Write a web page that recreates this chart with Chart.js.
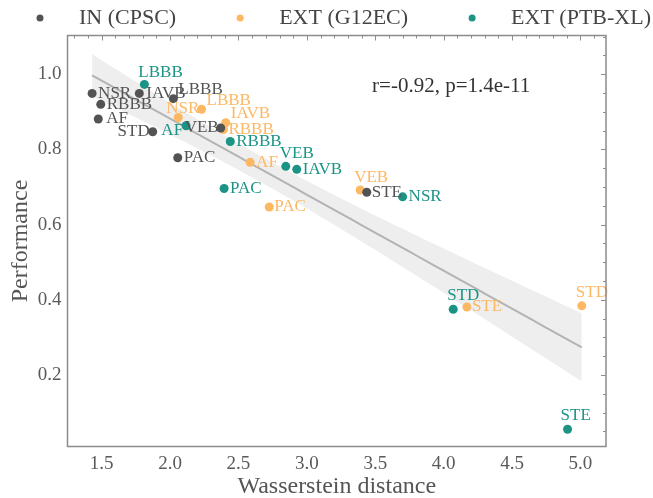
<!DOCTYPE html>
<html>
<head>
<meta charset="utf-8">
<script src="https://cdn.jsdelivr.net/npm/chart.js@4.4.1/dist/chart.umd.min.js"></script>
<style>
  html, body { margin: 0; padding: 0; background: #fff; }
</style>
</head>
<body>
<canvas id="chart" width="653" height="498"></canvas>
<script>
// per-class Wasserstein distance vs. performance, one list per dataset
const cpscClasses = ['NSR', 'IAVB', 'LBBB', 'RBBB', 'AF', 'STD', 'VEB', 'PAC', 'STE']
const cpscDist    = [1.430, 1.775, 2.024, 1.493, 1.475, 1.873, 2.370, 2.056, 3.438]
const cpscPerf    = [0.949, 0.949, 0.935, 0.920, 0.881, 0.847, 0.857, 0.778, 0.686]

const g12Classes = ['NSR', 'LBBB', 'IAVB', 'RBBB', 'AF', 'PAC', 'VEB', 'STE', 'STD']
const g12Dist    = [2.060, 2.230, 2.407, 2.390, 2.585, 2.725, 3.390, 4.170, 5.010]
const g12Perf    = [0.885, 0.907, 0.871, 0.853, 0.766, 0.647, 0.692, 0.381, 0.384]

const ptbClasses = ['LBBB', 'AF', 'RBBB', 'VEB', 'IAVB', 'PAC', 'NSR', 'STD', 'STE']
const ptbDist    = [1.812, 2.117, 2.440, 2.846, 2.926, 2.395, 3.700, 4.070, 4.906]
const ptbPerf    = [0.973, 0.863, 0.821, 0.755, 0.747, 0.696, 0.674, 0.375, 0.056]

const xTickValues = [1.5, 2.0, 2.5, 3.0, 3.5, 4.0, 4.5, 5.0]
const yTickValues = [0.2, 0.4, 0.6, 0.8, 1.0]

const statsText = 'r=-0.92, p=1.4e-11'

const GRAY = '#535353'
const ORANGE = '#fdb863'
const TEAL = '#1b9486'
const SERIF = '"Liberation Serif", "DejaVu Serif", serif'

// label nudges in px: [dx, dy, align]
const labelNudge = {
  cpsc: { NSR: [6, 0, 'left'], IAVB: [7, 0, 'left'], LBBB: [5, -9, 'left'], RBBB: [6, 0, 'left'],
          AF: [8, 0, 'left'], STD: [-3, 0, 'right'], VEB: [-2, 0, 'right'], PAC: [6, 0, 'left'], STE: [5, 0, 'left'] },
  g12:  { NSR: [-12, -9, 'left'], LBBB: [5, -9, 'left'], IAVB: [5, -9, 'left'], RBBB: [5, 0, 'left'],
          AF: [6, 0, 'left'], PAC: [5, 0, 'left'], VEB: [-6, -13, 'left'], STE: [5, 0, 'left'], STD: [-6, -13, 'left'] },
  ptb:  { LBBB: [-6, -12, 'left'], AF: [-3, 5, 'right'], RBBB: [6, 0, 'left'], VEB: [-6, -13, 'left'],
          IAVB: [6, 0, 'left'], PAC: [6, 0, 'left'], NSR: [6, 0, 'left'], STD: [-6, -14, 'left'], STE: [-7, -14, 'left'] }
}

function toPoints(xs, ys) {
  return xs.map((x, i) => ({ x: x, y: ys[i] }))
}

// ordinary least squares over all classes, with a 95% band for the mean
function fitBand(xs, ys, steps) {
  const n = xs.length
  const mx = xs.reduce((a, b) => a + b, 0) / n
  const my = ys.reduce((a, b) => a + b, 0) / n
  let sxx = 0, sxy = 0
  xs.forEach((x, i) => { sxx += (x - mx) ** 2; sxy += (x - mx) * (ys[i] - my) })
  const slope = sxy / sxx
  const icept = my - slope * mx
  let ssr = 0
  xs.forEach((x, i) => { ssr += (ys[i] - (icept + slope * x)) ** 2 })
  const se = Math.sqrt(ssr / (n - 2))
  const t = 2.06 // t(0.975, df=25)
  const lo = Math.min(...xs), hi = Math.max(...xs)
  const line = [], upper = [], lower = []
  for (let k = 0; k <= steps; k++) {
    const x = lo + (hi - lo) * k / steps
    const yh = icept + slope * x
    const h = t * se * Math.sqrt(1 / n + (x - mx) ** 2 / sxx)
    line.push({ x: x, y: yh })
    upper.push({ x: x, y: yh + h })
    lower.push({ x: x, y: yh - h })
  }
  return { line, upper, lower }
}

const fit = fitBand([...cpscDist, ...g12Dist, ...ptbDist], [...cpscPerf, ...g12Perf, ...ptbPerf], 60)

function scatterSet(label, xs, ys, classes, color, key) {
  return {
    type: 'scatter', label: label, data: toPoints(xs, ys), classes: classes, nudge: labelNudge[key],
    backgroundColor: color, borderWidth: 0, pointRadius: 4.5, pointHoverRadius: 4.5, order: 1
  }
}

const pointLabels = {
  id: 'pointLabels',
  afterDatasetsDraw(chart) {
    const ctx = chart.ctx
    ctx.save()
    ctx.font = '17px ' + SERIF
    ctx.textBaseline = 'middle'
    chart.data.datasets.forEach((ds, di) => {
      if (!ds.classes) return
      const meta = chart.getDatasetMeta(di)
      meta.data.forEach((pt, i) => {
        const name = ds.classes[i]
        const [dx, dy, align] = ds.nudge[name]
        ctx.fillStyle = ds.backgroundColor
        ctx.textAlign = align
        ctx.fillText(name, pt.x + dx, pt.y + dy)
      })
    })
    // correlation annotation
    ctx.fillStyle = '#333'
    ctx.font = '21px ' + SERIF
    ctx.textAlign = 'left'
    ctx.fillText(statsText, chart.scales.x.getPixelForValue(3.477), chart.scales.y.getPixelForValue(0.968))
    ctx.restore()
  }
}

const frameTicks = {
  id: 'frameTicks',
  afterDraw(chart) {
    const { ctx, chartArea: a, scales: { x, y } } = chart
    ctx.save()
    ctx.strokeStyle = '#8c8c8c'
    ctx.lineWidth = 1.5
    ctx.strokeRect(a.left, a.top, a.right - a.left, a.bottom - a.top)
    ctx.lineWidth = 1
    ctx.beginPath()
    // inward ticks along the top edge
    for (let i = 13; i <= 51; i++) {
      const px = Math.round(x.getPixelForValue(i / 10)) + 0.5
      const len = i % 5 === 0 ? 5 : 3
      ctx.moveTo(px, a.top)
      ctx.lineTo(px, a.top + len)
    }
    // inward ticks along the right edge
    for (let i = 1; i <= 22; i++) {
      const py = Math.round(y.getPixelForValue(i * 0.05)) + 0.5
      const len = i % 4 === 0 ? 5 : 3
      ctx.moveTo(a.right, py)
      ctx.lineTo(a.right - len, py)
    }
    ctx.stroke()
    ctx.restore()
  }
}

const legendRow = {
  id: 'legendRow',
  afterDraw(chart) {
    const ctx = chart.ctx
    ctx.save()
    ctx.font = '22px ' + SERIF
    ctx.textBaseline = 'middle'
    ctx.textAlign = 'left'
    let cx = 40
    const cy = 18
    chart.data.datasets.filter(d => d.classes).forEach(ds => {
      ctx.fillStyle = ds.backgroundColor
      ctx.beginPath()
      ctx.arc(cx, cy, 3.5, 0, Math.PI * 2)
      ctx.fill()
      ctx.fillStyle = '#444'
      ctx.fillText(ds.label, cx + 39, cy)
      cx += 39 + ctx.measureText(ds.label).width + 64
    })
    ctx.restore()
  }
}

new Chart(document.getElementById('chart'), {
  data: {
    datasets: [
      scatterSet('IN (CPSC)', cpscDist, cpscPerf, cpscClasses, GRAY, 'cpsc'),
      scatterSet('EXT (G12EC)', g12Dist, g12Perf, g12Classes, ORANGE, 'g12'),
      scatterSet('EXT (PTB-XL)', ptbDist, ptbPerf, ptbClasses, TEAL, 'ptb'),
      { type: 'line', data: fit.line, borderColor: '#b3b3b3', borderWidth: 2, pointRadius: 0, fill: false, order: 2 },
      { type: 'line', data: fit.upper, borderWidth: 0, pointRadius: 0, backgroundColor: 'rgba(0,0,0,0.065)', fill: '+1', order: 3 },
      { type: 'line', data: fit.lower, borderWidth: 0, pointRadius: 0, fill: false, order: 3 }
    ]
  },
  options: {
    responsive: false,
    animation: false,
    devicePixelRatio: 1,
    layout: { padding: { top: 35.5, right: 47, left: 0, bottom: 0 } },
    plugins: { legend: { display: false }, tooltip: { enabled: false } },
    scales: {
      x: {
        type: 'linear', min: 1.25, max: 5.187,
        afterBuildTicks: s => { s.ticks = xTickValues.map(v => ({ value: v })) },
        afterFit: s => { s.height = 51.5 },
        grid: { display: false, drawTicks: false },
        border: { display: false },
        ticks: { padding: 6, color: '#5a5a5a', font: { family: SERIF, size: 19 }, callback: v => v.toFixed(1) },
        title: { display: true, text: 'Wasserstein distance', color: '#555', font: { family: SERIF, size: 24, lineHeight: 0.9 }, padding: 0 }
      },
      y: {
        type: 'linear', min: 0.01, max: 1.103,
        afterBuildTicks: s => { s.ticks = yTickValues.map(v => ({ value: v })) },
        afterFit: s => { s.width = 67.5 },
        grid: { display: false, drawTicks: false },
        border: { display: false },
        ticks: { padding: 6, color: '#5a5a5a', font: { family: SERIF, size: 19 }, callback: v => v.toFixed(1) },
        title: { display: true, text: 'Performance', color: '#555', font: { family: SERIF, size: 24, lineHeight: 1.2 }, padding: { top: 6, bottom: 0 } }
      }
    }
  },
  plugins: [pointLabels, frameTicks, legendRow]
})
</script>
</body>
</html>
